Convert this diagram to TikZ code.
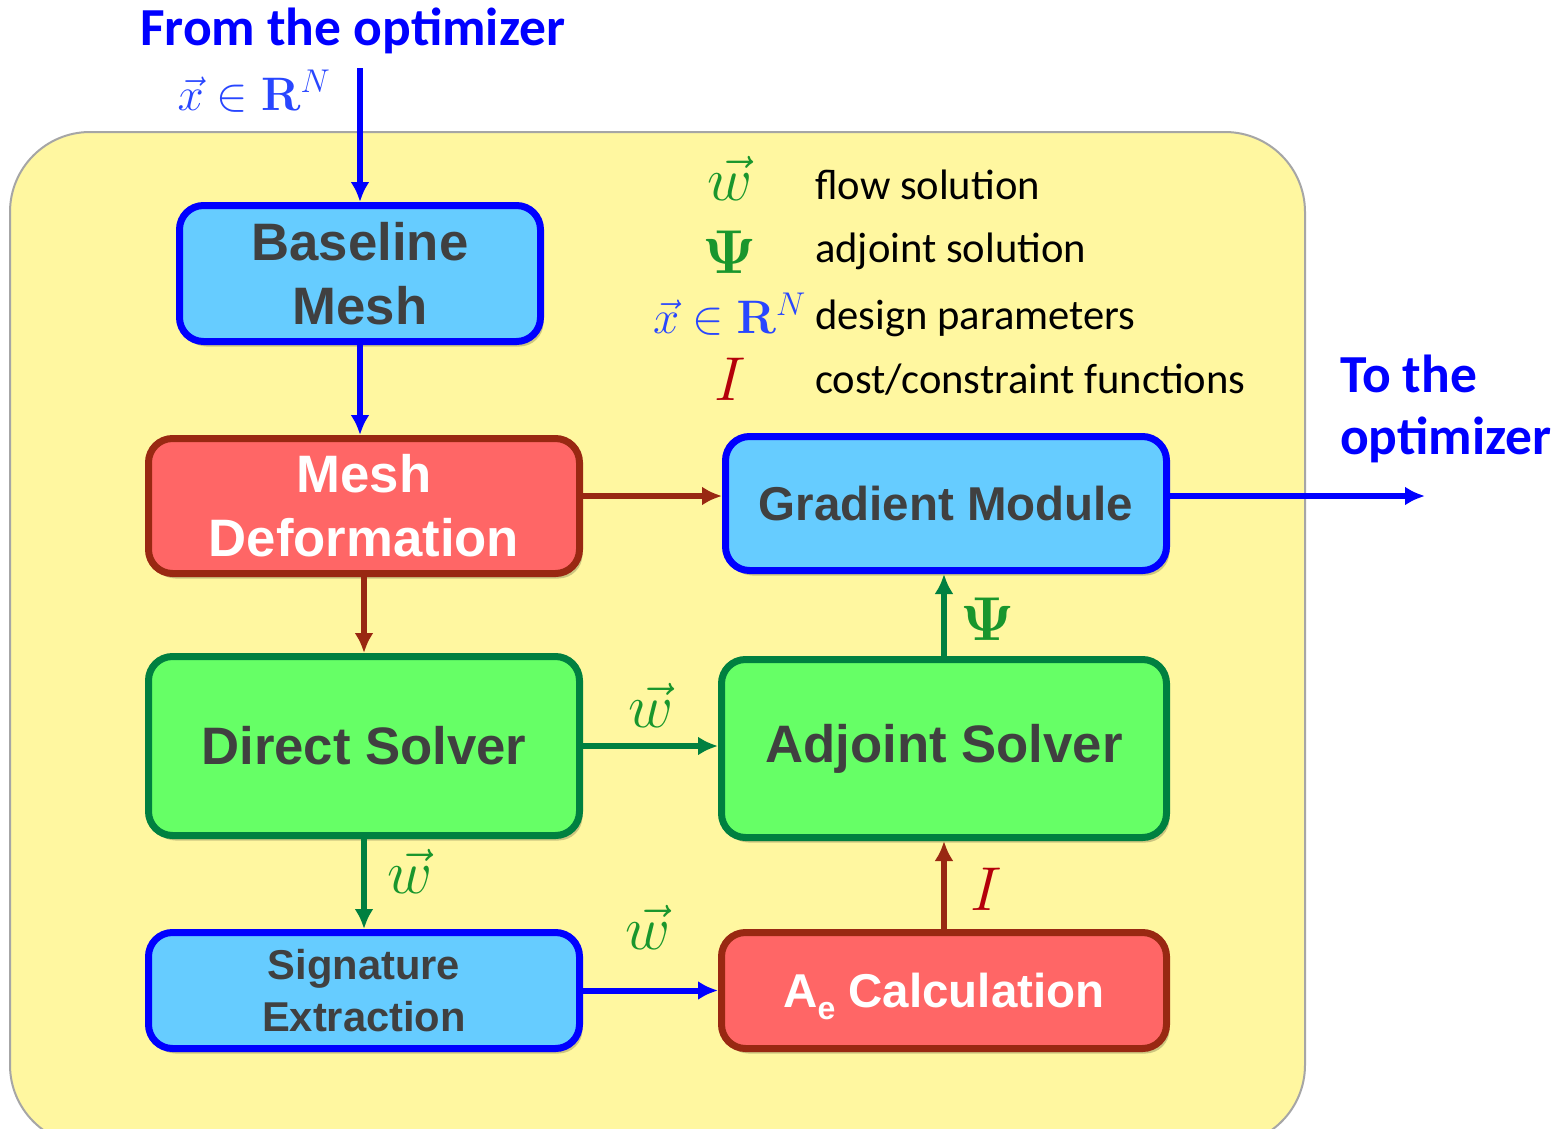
\RequirePackage{fix-cm}
\documentclass[tikz,border=0pt]{standalone}
\usepackage[no-math]{fontspec}
\setmainfont{Carlito}
\newfontfamily\boxfont{Liberation Sans}
\usetikzlibrary{arrows.meta,shadows}
\definecolor{bgyellow}{RGB}{255,247,160}
\definecolor{bggray}{RGB}{166,166,166}
\definecolor{lblue}{RGB}{102,204,255}
\definecolor{dblue}{RGB}{0,0,255}
\definecolor{lred}{RGB}{255,102,102}
\definecolor{dred}{RGB}{153,40,18}
\definecolor{lgreen}{RGB}{102,255,102}
\definecolor{dgreen}{RGB}{0,128,64}
\definecolor{txtgray}{RGB}{64,64,64}
\definecolor{symgreen}{RGB}{25,150,45}
\definecolor{symred}{RGB}{180,0,10}
\definecolor{symblue}{RGB}{40,70,255}
\begin{document}
\begin{tikzpicture}[x=1pt,y=-1pt,
  box/.style={rounded corners=24pt, line width=7pt, inner sep=0pt, align=center,
    drop shadow={shadow xshift=3pt,shadow yshift=-5pt,opacity=0.2,fill=black}},
  bluebox/.style={box, draw=dblue, fill=lblue, text=txtgray},
  redbox/.style={box, draw=dred, fill=lred, text=white},
  greenbox/.style={box, draw=dgreen, fill=lgreen, text=txtgray},
  bigtxt/.style={font=\boxfont\bfseries\fontsize{52.7}{64}\selectfont},
  midtxt/.style={font=\boxfont\bfseries\fontsize{47.5}{58}\selectfont},
  smalltxt/.style={font=\boxfont\bfseries\fontsize{41.7}{52}\selectfont},
  conn/.style={line width=6pt, -{Latex[length=20pt,width=19pt]}},
  sym/.style={font=\fontsize{62}{62}\selectfont, inner sep=0pt, anchor=base},
  legtxt/.style={font=\fontsize{42.6}{50}\selectfont, inner sep=0pt, anchor=base west},
  titletxt/.style={font=\bfseries\fontsize{53.5}{62}\selectfont, text=dblue, inner sep=0pt}
]
\useasboundingbox (0,0) rectangle (1567,1128);
\fill[white] (0,0) rectangle (1567,1128);
\draw[bggray, line width=2pt, fill=bgyellow, rounded corners=80pt] (10,132) rectangle (1305,1145);

% boxes
\node[bluebox, bigtxt, minimum width=361pt, minimum height=136pt] (base) at (360,273.5) {Baseline\\Mesh};
\node[redbox, bigtxt, minimum width=431pt, minimum height=135pt] (def) at (364,506) {Mesh\\Deformation};
\node[bluebox, midtxt, minimum width=441pt, minimum height=134pt] (grad) at (946,503.5) {Gradient Module};
\node[greenbox, bigtxt, minimum width=431pt, minimum height=179pt] (direct) at (364,746) {Direct Solver};
\node[greenbox, bigtxt, minimum width=445pt, minimum height=178pt] (adj) at (944,748.5) {Adjoint Solver};
\node[bluebox, smalltxt, minimum width=431pt, minimum height=116pt] (sig) at (364,990.5) {Signature\\Extraction};
\node[redbox, midtxt, minimum width=445pt, minimum height=116pt] (ae) at (944,990.5) {A\raisebox{-12pt}[0pt][0pt]{\fontsize{32}{32}\selectfont e} Calculation};

% connectors
\coordinate (src) at (360,68);
\coordinate (dst) at (1425,496);
\draw[conn, dblue] (src) -- (base.north);
\draw[conn, dblue] (base.south) -- (base.south |- def.north);
\draw[conn, dred] (def.east |- dst) -- (grad.west |- dst);
\draw[conn, dred] (def.south) -- (def.south |- direct.north);
\draw[conn, dgreen] (direct.east) -- (direct.east -| adj.west);
\draw[conn, dgreen] (direct.south) -- (direct.south |- sig.north);
\draw[conn, dblue] (sig.east) -- (sig.east -| ae.west);
\draw[conn, dred] (ae.north) -- (ae.north |- adj.south);
\draw[conn, dgreen] (adj.north) -- (adj.north |- grad.south);
\draw[conn, dblue] (grad.east |- dst) -- (dst);

% connector labels
\node[sym, text=symgreen] (lw1) at (651,727) {$\vec{w}$};
\node[sym, text=symgreen] (lpsi) at (988,640) {$\mathbf{\Psi}$};
\node[sym, text=symgreen] (lw2) at (410,893) {$\vec{w}$};
\node[sym, text=symgreen] (lw3) at (648,949) {$\vec{w}$};
\node[sym, text=symred] (lI) at (986,910) {$I$};

% titles
\node[titletxt, anchor=base west] (from) at (140,45) {From the optimizer};
\node[font=\fontsize{47}{47}\selectfont, text=symblue, inner sep=0pt, anchor=base] (xin) at (254,110) {$\vec{x}\in\mathbf{R}^N$};
\node[titletxt, anchor=north west, align=left] (to) at (1340,355) {To the\\optimizer};

% legend
\node[sym, text=symgreen] (kw) at (730,200) {$\vec{w}$};
\node[sym, text=symgreen] (kpsi) at (730,273) {$\mathbf{\Psi}$};
\node[font=\fontsize{47}{47}\selectfont, text=symblue, inner sep=0pt, anchor=base east] (kx) at (806,333) {$\vec{x}\in\mathbf{R}^N$};
\node[sym, text=symred] (kI) at (730,400) {$I$};
\node[legtxt] (t1) at (815,199) {flow solution};
\node[legtxt] (t2) at (815,262) {adjoint solution};
\node[legtxt] (t3) at (815,329) {design parameters};
\node[legtxt] (t4) at (815,393) {cost/constraint functions};
\end{tikzpicture}
\end{document}
